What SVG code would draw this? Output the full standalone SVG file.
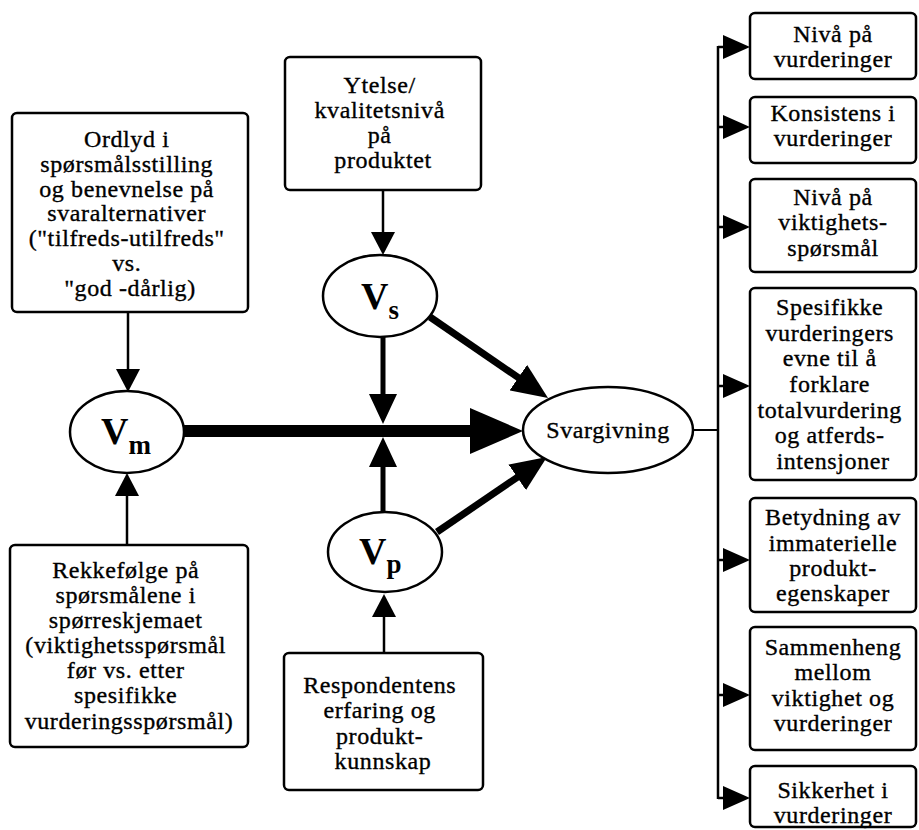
<svg xmlns="http://www.w3.org/2000/svg" width="919" height="830" viewBox="0 0 919 830">
  <style>
    .box { fill: #fff; stroke: #000; stroke-width: 2.5; }
    .ell { fill: #fff; stroke: #000; stroke-width: 2.5; }
    .lbl { font-family: "Liberation Serif", "Times New Roman", serif; font-size: 24px; letter-spacing: 0.6px; fill: #000; stroke: #000; stroke-width: 0.35; text-anchor: middle; }
    .var { font-family: "Liberation Serif", "Times New Roman", serif; font-weight: bold; fill: #000; }
    .thin { fill: none; stroke: #000; stroke-width: 2.5; }
    .mid { fill: none; stroke: #000; stroke-width: 5; }
    .diag { fill: none; stroke: #000; stroke-width: 7; }
    .main { fill: none; stroke: #000; stroke-width: 12; }
  </style>
  <defs>
    <!-- arrowheads: line ends 10% past the base, tip lies beyond the line end -->
    <marker id="ah-s" viewBox="0 0 10 10" refX="1" refY="5" markerWidth="23" markerHeight="24" markerUnits="userSpaceOnUse" orient="auto" preserveAspectRatio="none">
      <path d="M0,0 L10,5 L0,10 Z" fill="#000"/>
    </marker>
    <marker id="ah-m" viewBox="0 0 10 10" refX="1" refY="5" markerWidth="30" markerHeight="28" markerUnits="userSpaceOnUse" orient="auto" preserveAspectRatio="none">
      <path d="M0,0 L10,5 L0,10 Z" fill="#000"/>
    </marker>
    <marker id="ah-d" viewBox="0 0 10 10" refX="1" refY="5" markerWidth="36" markerHeight="31" markerUnits="userSpaceOnUse" orient="auto" preserveAspectRatio="none">
      <path d="M0,0 L10,5 L0,10 Z" fill="#000"/>
    </marker>
    <marker id="ah-l" viewBox="0 0 10 10" refX="1" refY="5" markerWidth="53" markerHeight="46" markerUnits="userSpaceOnUse" orient="auto" preserveAspectRatio="none">
      <path d="M0,0 L10,5 L0,10 Z" fill="#000"/>
    </marker>
    <marker id="ah-r" viewBox="0 0 10 10" refX="1" refY="5" markerWidth="27" markerHeight="24" markerUnits="userSpaceOnUse" orient="auto" preserveAspectRatio="none">
      <path d="M0,0 L10,5 L0,10 Z" fill="#000"/>
    </marker>
  </defs>

  <rect width="919" height="830" fill="#fff"/>

  <g id="connectors">
    <!-- boxes into the three V nodes -->
    <path class="thin" d="M128,312 V371.3" marker-end="url(#ah-s)"/>
    <path class="thin" d="M127,545 V493.7" marker-end="url(#ah-s)"/>
    <path class="thin" d="M383,190 V234.3" marker-end="url(#ah-s)"/>
    <path class="thin" d="M384,653 V614.7" marker-end="url(#ah-s)"/>
    <!-- Vs and Vp onto the main path -->
    <path class="mid" d="M383,337 V397" marker-end="url(#ah-m)"/>
    <path class="mid" d="M383,512 V464" marker-end="url(#ah-m)"/>
    <!-- Vm main path to Svargivning -->
    <path class="main" d="M183,431 H475.3" marker-end="url(#ah-l)"/>
    <!-- diagonals into Svargivning -->
    <path class="diag" d="M430,317 L521.3,379.7" marker-end="url(#ah-d)"/>
    <path class="diag" d="M437,532 L520.2,475.3" marker-end="url(#ah-d)"/>
    <!-- distribution bar to outcomes -->
    <path class="thin" style="stroke-width:2" d="M693,430 H718"/>
    <path class="thin" d="M718,46 V799"/>
    <path class="thin" d="M718,47 H725.7" marker-end="url(#ah-r)"/>
    <path class="thin" d="M718,127 H725.7" marker-end="url(#ah-r)"/>
    <path class="thin" d="M718,227 H725.7" marker-end="url(#ah-r)"/>
    <path class="thin" d="M718,386 H725.7" marker-end="url(#ah-r)"/>
    <path class="thin" d="M718,560 H725.7" marker-end="url(#ah-r)"/>
    <path class="thin" d="M718,695 H725.7" marker-end="url(#ah-r)"/>
    <path class="thin" d="M718,798 H725.7" marker-end="url(#ah-r)"/>
  </g>

  <g id="ordlyd">
    <rect class="box" x="12" y="113" width="236" height="199" rx="5"/>
    <text class="lbl">
      <tspan x="130" y="147">Ordlyd i</tspan>
      <tspan x="130" y="172">spørsmålsstilling</tspan>
      <tspan x="130" y="197">og benevnelse på</tspan>
      <tspan x="130" y="221">svaralternativer</tspan>
      <tspan x="130" y="246">("tilfreds-utilfreds"</tspan>
      <tspan x="130" y="271">vs.</tspan>
      <tspan x="130" y="296">"god -dårlig)</tspan>
    </text>
  </g>

  <g id="rekkefolge">
    <rect class="box" x="10" y="545" width="238" height="202" rx="5"/>
    <text class="lbl">
      <tspan x="129" y="578">Rekkefølge på</tspan>
      <tspan x="129" y="603">spørsmålene i</tspan>
      <tspan x="129" y="628">spørreskjemaet</tspan>
      <tspan x="129" y="653">(viktighetsspørsmål</tspan>
      <tspan x="129" y="678">før vs. etter</tspan>
      <tspan x="129" y="703">spesifikke</tspan>
      <tspan x="129" y="729">vurderingsspørsmål)</tspan>
    </text>
  </g>

  <g id="ytelse">
    <rect class="box" x="285" y="57" width="196" height="133" rx="5"/>
    <text class="lbl">
      <tspan x="383" y="93">Ytelse/</tspan>
      <tspan x="383" y="118">kvalitetsnivå</tspan>
      <tspan x="383" y="143">på</tspan>
      <tspan x="383" y="168">produktet</tspan>
    </text>
  </g>

  <g id="respondent">
    <rect class="box" x="284" y="653" width="199" height="137" rx="5"/>
    <text class="lbl">
      <tspan x="383" y="693">Respondentens</tspan>
      <tspan x="383" y="718">erfaring og</tspan>
      <tspan x="383" y="744">produkt-</tspan>
      <tspan x="383" y="769">kunnskap</tspan>
    </text>
  </g>

  <g id="vm">
    <ellipse class="ell" cx="127" cy="432" rx="57" ry="41"/>
    <text class="var" x="101" y="444"><tspan font-size="38">V</tspan><tspan font-size="27" dy="10">m</tspan></text>
  </g>

  <g id="vs">
    <ellipse class="ell" cx="380" cy="296" rx="57" ry="41"/>
    <text class="var" x="361" y="309"><tspan font-size="38">V</tspan><tspan font-size="27" dy="10">s</tspan></text>
  </g>

  <g id="vp">
    <ellipse class="ell" cx="385" cy="552" rx="57" ry="40"/>
    <text class="var" x="359" y="564"><tspan font-size="38">V</tspan><tspan font-size="27" dy="9">p</tspan></text>
  </g>

  <g id="svargivning">
    <ellipse class="ell" cx="608" cy="430" rx="85" ry="43"/>
    <text class="lbl" x="608" y="438">Svargivning</text>
  </g>

  <g id="out-niva">
    <rect class="box" x="750" y="13" width="166" height="66" rx="5"/>
    <text class="lbl"><tspan x="833" y="42">Nivå på</tspan><tspan x="833" y="67">vurderinger</tspan></text>
  </g>
  <g id="out-konsistens">
    <rect class="box" x="750" y="97" width="166" height="66" rx="5"/>
    <text class="lbl"><tspan x="833" y="121">Konsistens i</tspan><tspan x="833" y="146">vurderinger</tspan></text>
  </g>
  <g id="out-viktighet">
    <rect class="box" x="750" y="179" width="166" height="93" rx="5"/>
    <text class="lbl"><tspan x="833" y="205">Nivå på</tspan><tspan x="833" y="230">viktighets-</tspan><tspan x="833" y="256">spørsmål</tspan></text>
  </g>
  <g id="out-evne">
    <rect class="box" x="750" y="288" width="166" height="192" rx="5"/>
    <text class="lbl">
      <tspan x="833" y="315">Spesifikke</tspan>
      <tspan x="833" y="341">vurderingers</tspan>
      <tspan x="833" y="366">evne til å</tspan>
      <tspan x="833" y="392">forklare</tspan>
      <tspan x="833" y="418">totalvurdering</tspan>
      <tspan x="833" y="443">og atferds-</tspan>
      <tspan x="833" y="469">intensjoner</tspan>
    </text>
  </g>
  <g id="out-immaterielle">
    <rect class="box" x="750" y="498" width="166" height="114" rx="5"/>
    <text class="lbl"><tspan x="833" y="525">Betydning av</tspan><tspan x="833" y="551">immaterielle</tspan><tspan x="833" y="576">produkt-</tspan><tspan x="833" y="601">egenskaper</tspan></text>
  </g>
  <g id="out-sammenheng">
    <rect class="box" x="750" y="627" width="166" height="123" rx="5"/>
    <text class="lbl"><tspan x="833" y="655">Sammenheng</tspan><tspan x="833" y="680">mellom</tspan><tspan x="833" y="706">viktighet og</tspan><tspan x="833" y="731">vurderinger</tspan></text>
  </g>
  <g id="out-sikkerhet">
    <rect class="box" x="750" y="766" width="166" height="61" rx="5"/>
    <text class="lbl"><tspan x="833" y="798">Sikkerhet i</tspan><tspan x="833" y="823">vurderinger</tspan></text>
  </g>
</svg>
